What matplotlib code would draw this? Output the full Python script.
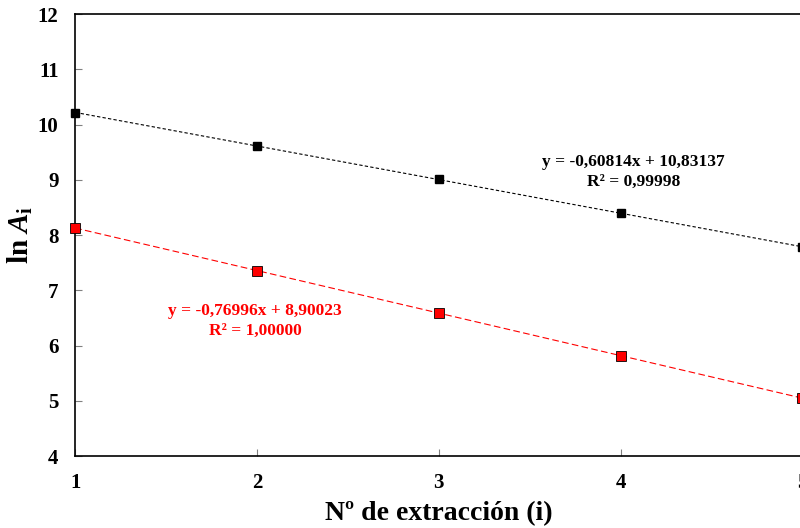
import numpy as np
import matplotlib.pyplot as plt

# datos
extraccion = [1, 2, 3, 4, 5]
ln_a_negro = [10.22, 9.62, 9.01, 8.40, 7.79]
ln_a_rojo = [8.13, 7.36, 6.59, 5.82, 5.05]

ajuste_negro = (-0.60814, 10.83137)
ajuste_rojo = (-0.76996, 8.90023)

plt.rcParams['font.family'] = ['Liberation Serif', 'DejaVu Serif']
plt.rcParams['mathtext.fontset'] = 'custom'
plt.rcParams['mathtext.rm'] = 'Liberation Serif:bold'
plt.rcParams['mathtext.it'] = 'Liberation Serif:italic:bold'

fig = plt.figure(figsize=(8, 5.28), dpi=100)
ax = fig.add_axes([0.094, 0.136, 0.909, 0.837])

x = np.array(extraccion)
ax.plot(x, ajuste_negro[0] * x + ajuste_negro[1], ls=(0, (3, 2)), color='black', lw=0.8, zorder=2)
ax.plot(x, ajuste_rojo[0] * x + ajuste_rojo[1], ls=(0, (6, 3)), color='red', lw=0.8, zorder=2)

ax.plot(extraccion, ln_a_negro, 's', color='black', ms=6, zorder=3, clip_on=False)
ax.plot(extraccion, ln_a_rojo, 's', color='red', mec='black', mew=0.6, ms=7.5, zorder=3, clip_on=False)

ax.text(4.07, 9.14, 'y = -0,60814x + 10,83137\nR² = 0,99998', ha='center', va='center',
        fontsize=12.5, fontweight='bold', color='black', linespacing=1.35)
ax.text(1.99, 6.45, 'y = -0,76996x + 8,90023\nR² = 1,00000', ha='center', va='center',
        fontsize=12.5, fontweight='bold', color='red', linespacing=1.35)

ax.set_xlim(1, 5)
ax.set_ylim(4, 12)
ax.set_xticks(extraccion)
ax.set_yticks(range(4, 13))
ax.tick_params(direction='in', length=5, color='gray', labelsize=15, pad=12)
for lbl in ax.get_xticklabels() + ax.get_yticklabels():
    lbl.set_fontweight('bold')

ax.set_xlabel('Nº de extracción (i)', fontsize=20, fontweight='bold', labelpad=6)
ax.set_ylabel(r'ln $A_{\mathrm{i}}$', fontsize=21, fontweight='bold', labelpad=2)

for s in ax.spines.values():
    s.set_linewidth(1.2)

fig.savefig('out.png', dpi=100)
